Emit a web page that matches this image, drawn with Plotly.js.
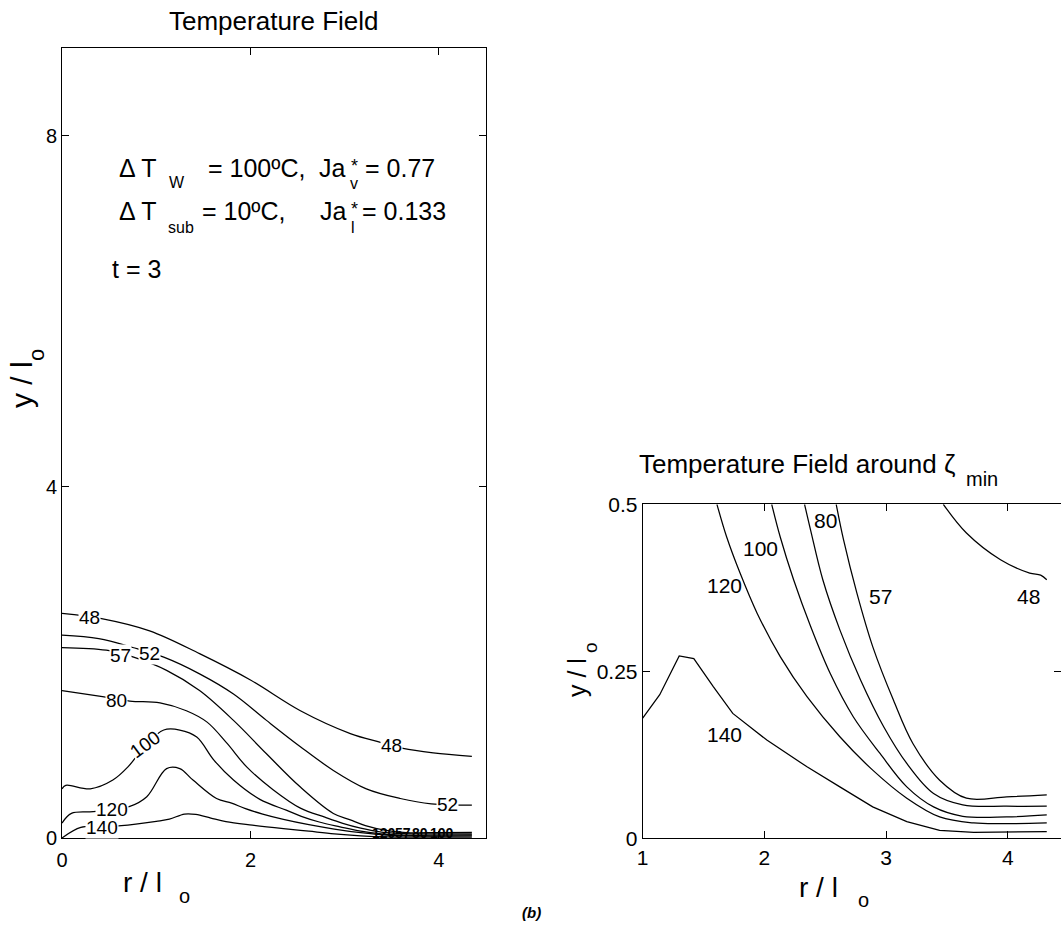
<!DOCTYPE html>
<html>
<head>
<meta charset="utf-8">
<script src="https://cdn.plot.ly/plotly-3.0.1.min.js"></script>
<style>html,body{margin:0;padding:0;background:#fff;}#chart{width:1061px;height:934px;}</style>
</head>
<body>
<div id="chart"></div>
<script>
// ---------------- DATA ----------------
// Left panel: full temperature field, contour lines (r/l_o , y/l_o)
const left48R  = [0, 0.42, 0.93, 1.46, 2.0, 2.53, 3.06, 3.38, 3.62, 3.94, 4.35];
const left48Y  = [2.56, 2.50, 2.36, 2.10, 1.80, 1.45, 1.19, 1.09, 1.02, 0.97, 0.93];
const left52R  = [0, 0.39, 0.75, 1.08, 1.46, 1.82, 2.17, 2.53, 2.88, 3.23, 3.59, 3.92, 4.35];
const left52Y  = [2.31, 2.27, 2.17, 2.06, 1.87, 1.64, 1.34, 1.04, 0.77, 0.56, 0.45, 0.39, 0.375];
const left57R  = [0, 0.47, 0.76, 1.11, 1.46, 1.82, 2.17, 2.53, 2.88, 3.06, 3.22, 3.44, 3.66, 4.0, 4.35];
const left57Y  = [2.17, 2.14, 2.06, 1.91, 1.68, 1.34, 0.96, 0.58, 0.28, 0.207, 0.142, 0.087, 0.06, 0.062, 0.065];
const left80R  = [0, 0.43, 0.72, 1.04, 1.32, 1.54, 1.75, 1.96, 2.24, 2.53, 2.79, 2.98, 3.17, 3.39, 3.63, 4.0, 4.35];
const left80Y  = [1.68, 1.61, 1.56, 1.54, 1.45, 1.32, 1.08, 0.81, 0.55, 0.34, 0.237, 0.167, 0.112, 0.067, 0.05, 0.048, 0.048];
const left100R = [0, 0.04, 0.30, 0.54, 0.70, 0.88, 1.08, 1.25, 1.43, 1.61, 1.82, 2.10, 2.38, 2.54, 2.73, 2.95, 3.17, 3.39, 3.63, 4.0, 4.35];
const left100Y = [0.56, 0.60, 0.56, 0.66, 0.81, 1.05, 1.23, 1.23, 1.15, 0.89, 0.66, 0.44, 0.317, 0.247, 0.182, 0.127, 0.077, 0.047, 0.033, 0.032, 0.035];
const left120R = [0, 0.10, 0.33, 0.72, 0.90, 1.11, 1.25, 1.39, 1.64, 1.80, 1.94, 2.13, 2.35, 2.62, 2.89, 3.17, 3.44, 3.72, 4.0, 4.35];
const left120Y = [0.17, 0.28, 0.30, 0.36, 0.47, 0.79, 0.79, 0.66, 0.45, 0.397, 0.337, 0.272, 0.212, 0.152, 0.102, 0.06, 0.032, 0.023, 0.022, 0.023];
const left140R = [0, 0.2, 0.42, 0.63, 1.0, 1.14, 1.30, 1.42, 1.58, 1.74, 2.02, 2.35, 2.62, 2.89, 3.17, 3.44, 3.72, 4.35];
const left140Y = [0, 0.12, 0.13, 0.14, 0.19, 0.215, 0.273, 0.269, 0.227, 0.187, 0.147, 0.107, 0.077, 0.047, 0.025, 0.012, 0.009, 0.01];

// Right panel: temperature field around zeta_min
const right140R = [1.0, 1.14, 1.30, 1.42, 1.58, 1.74, 2.02, 2.35, 2.62, 2.89, 3.17, 3.44, 3.72, 4.32];
const right140Y = [0.18, 0.215, 0.273, 0.269, 0.227, 0.187, 0.147, 0.107, 0.077, 0.047, 0.025, 0.012, 0.009, 0.0099];
const right120R = [1.61, 1.69, 1.80, 1.94, 2.13, 2.35, 2.62, 2.89, 3.17, 3.44, 3.72, 3.99, 4.32];
const right120Y = [0.5, 0.451, 0.397, 0.337, 0.272, 0.212, 0.152, 0.102, 0.060, 0.032, 0.023, 0.022, 0.023];
const right100R = [2.06, 2.13, 2.24, 2.38, 2.54, 2.73, 2.95, 3.17, 3.39, 3.63, 3.99, 4.32];
const right100Y = [0.5, 0.451, 0.387, 0.317, 0.247, 0.182, 0.127, 0.077, 0.047, 0.033, 0.032, 0.035];
const right80R  = [2.33, 2.38, 2.48, 2.62, 2.79, 2.98, 3.17, 3.39, 3.63, 3.99, 4.32];
const right80Y  = [0.5, 0.461, 0.387, 0.312, 0.237, 0.167, 0.112, 0.067, 0.050, 0.048, 0.048];
const right57R  = [2.59, 2.65, 2.76, 2.89, 3.06, 3.22, 3.44, 3.66, 3.99, 4.32];
const right57Y  = [0.5, 0.447, 0.367, 0.287, 0.207, 0.142, 0.087, 0.060, 0.062, 0.065];
const right48R  = [3.47, 3.66, 3.94, 4.18, 4.27, 4.32];
const right48Y  = [0.5, 0.457, 0.417, 0.397, 0.394, 0.387];

// Tick values / labels
const leftXTicks  = [0, 2, 4];
const leftYTicks  = [0, 4, 8];
const rightXTicks = [1, 2, 3, 4];
const rightYTicks = [0, 0.25, 0.5];
const rightYTickText = ['0', '0.25', '0.5'];

// Contour level labels
const leftLevelText  = ['48', '52', '57', '80', '100', '120', '140', '48', '52'];
const rightLevelText = ['120', '100', '80', '57', '48', '140'];
const crowdedLevelText = ['120', '57', '80', '100'];

// ---------------- PLOT ----------------
const W = 1061, H = 934;
const FONT = 'Liberation Sans, Arial, Helvetica, sans-serif';
const px = v => v / W;
const py = v => 1 - v / H;

const lineStyle = {color: '#000', width: 1.25, shape: 'spline', smoothing: 1.0};
function curve(r, y, xa, ya, shape) {
  return {x: r, y: y, xaxis: xa, yaxis: ya, type: 'scatter', mode: 'lines',
          line: Object.assign({}, lineStyle, shape ? {shape: shape} : {}),
          hoverinfo: 'skip', showlegend: false};
}

const traces = [
  curve(left48R, left48Y, 'x', 'y'),
  curve(left52R, left52Y, 'x', 'y'),
  curve(left57R, left57Y, 'x', 'y'),
  curve(left80R, left80Y, 'x', 'y'),
  curve(left100R, left100Y, 'x', 'y'),
  curve(left120R, left120Y, 'x', 'y'),
  curve(left140R, left140Y, 'x', 'y'),
  curve(right140R, right140Y, 'x2', 'y2', 'linear'),
  curve(right120R, right120Y, 'x2', 'y2'),
  curve(right100R, right100Y, 'x2', 'y2'),
  curve(right80R, right80Y, 'x2', 'y2'),
  curve(right57R, right57Y, 'x2', 'y2'),
  curve(right48R, right48Y, 'x2', 'y2')
];

// label placements (data coordinates)
const leftLabelPos = [[0.29, 2.51, 0], [0.93, 2.10, 0], [0.62, 2.08, 0], [0.58, 1.57, 0],
                      [0.88, 1.07, -36], [0.53, 0.325, 0], [0.42, 0.115, 0], [3.50, 1.05, 0], [4.09, 0.38, 0]];
const rightLabelPos = [[1.67, 0.379], [1.97, 0.434], [2.50, 0.476], [2.95, 0.362], [4.17, 0.362], [1.67, 0.155]];
const crowdedPos = [3.42, 3.62, 3.80, 4.03];

const ann = [];
leftLevelText.forEach((t, i) => {
  const p = leftLabelPos[i];
  ann.push({text: t, x: p[0], y: p[1], xref: 'x', yref: 'y', showarrow: false,
            textangle: p[2], bgcolor: '#fff', borderpad: 0,
            font: {family: FONT, size: 19, color: '#000'}});
});
rightLevelText.forEach((t, i) => {
  const p = rightLabelPos[i];
  ann.push({text: t, x: p[0], y: p[1], xref: 'x2', yref: 'y2', showarrow: false,
            font: {family: FONT, size: 21, color: '#000'}});
});
// crowded, overprinted labels at the bottom right of the left panel
crowdedLevelText.forEach((t, i) => {
  ann.push({text: '<b>' + t + '</b>', x: crowdedPos[i], y: 0.06, xref: 'x', yref: 'y', showarrow: false,
            font: {family: FONT, size: 14, color: '#000'}});
});

function txt(text, x, y, size, anchor, extra) {
  return Object.assign({text: text, x: px(x), y: py(y), xref: 'paper', yref: 'paper',
    xanchor: anchor || 'left', yanchor: 'middle', showarrow: false,
    font: {family: FONT, size: size, color: '#000'}}, extra || {});
}
// titles
ann.push(txt('Temperature Field', 274, 21, 26, 'center'));
ann.push(txt('Temperature Field around ζ', 637, 464, 26, 'left'));
ann.push(txt('min', 964, 479, 20, 'left'));
// parameter text in left panel
ann.push(txt('Δ T', 117, 167.5, 25));
ann.push(txt('W', 167, 182.5, 16));
ann.push(txt('= 100ºC,', 206, 167.5, 25));
ann.push(txt('Ja', 317, 167.5, 25));
ann.push(txt('*', 354, 166, 18, 'center'));
ann.push(txt('v', 354, 183.6, 16, 'center'));
ann.push(txt('= 0.77', 363, 167.5, 25));
ann.push(txt('Δ T', 117, 210.5, 25));
ann.push(txt('sub', 166, 227.5, 16));
ann.push(txt('= 10ºC,', 200, 210.5, 25));
ann.push(txt('Ja', 318, 210.5, 25));
ann.push(txt('*', 354, 209, 18, 'center'));
ann.push(txt('l', 353, 227.5, 16, 'center'));
ann.push(txt('= 0.133', 360, 210.5, 25));
ann.push(txt('t = 3', 110, 269, 25));
// axis titles
ann.push(txt('r / l', 121, 882, 28));
ann.push(txt('o', 177, 896, 20));
ann.push(txt('r / l', 797, 887, 28));
ann.push(txt('o', 856, 900, 20));
ann.push(txt('y / l', 21, 385, 30, 'center', {textangle: -90}));
ann.push(txt('o', 36, 355, 22, 'center', {textangle: -90}));
ann.push(txt('y / l', 577, 678, 25, 'center', {textangle: -90}));
ann.push(txt('o', 590, 648, 19, 'center', {textangle: -90}));
// caption
ann.push(txt('<b><i>(b)</i></b>', 531, 912, 15, 'center'));

const axBase = {showline: true, linecolor: '#000', linewidth: 1, mirror: 'ticks',
  ticks: 'inside', ticklen: 7, tickwidth: 1, tickcolor: '#000', showgrid: false, zeroline: false,
  tickfont: {family: FONT, size: 20, color: '#000'}, fixedrange: true};

const layout = {
  width: W, height: H, margin: {l: 0, r: 0, t: 0, b: 0},
  paper_bgcolor: '#fff', plot_bgcolor: '#fff', showlegend: false,
  xaxis: Object.assign({}, axBase, {domain: [px(62), px(486)], range: [0, 4.5],
         tickvals: leftXTicks, anchor: 'y', ticklabelstandoff: 4}),
  yaxis: Object.assign({}, axBase, {domain: [py(838), py(48)], range: [0, 9],
         tickvals: leftYTicks, anchor: 'x'}),
  xaxis2: Object.assign({}, axBase, {domain: [px(642.7), 1], range: [1, 4.437],
         tickvals: rightXTicks, anchor: 'y2', tickfont: {family: FONT, size: 21, color: '#000'}}),
  yaxis2: Object.assign({}, axBase, {domain: [py(838.3), py(504.3)], range: [0, 0.5],
         tickvals: rightYTicks, ticktext: rightYTickText, anchor: 'x2',
         tickfont: {family: FONT, size: 21, color: '#000'}}),
  annotations: ann
};

Plotly.newPlot('chart', traces, layout, {staticPlot: true, displayModeBar: false});
</script>
</body>
</html>
